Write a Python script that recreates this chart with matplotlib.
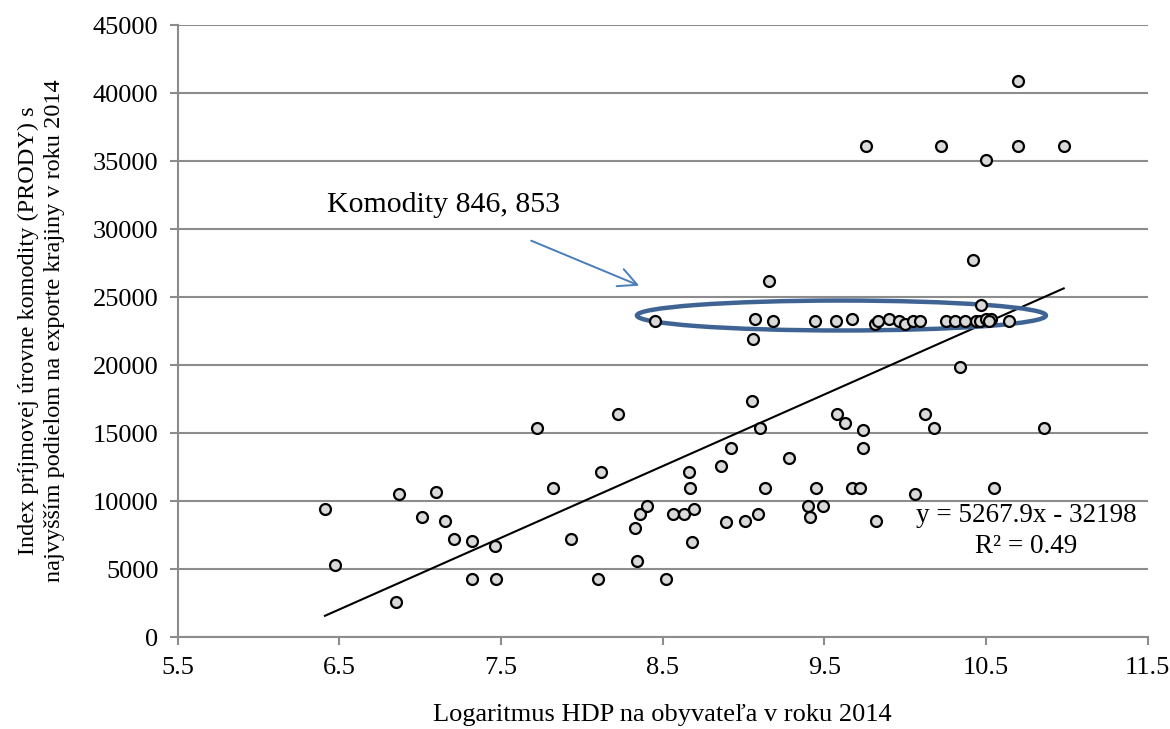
import matplotlib
matplotlib.use('Agg')
import matplotlib.pyplot as plt
from matplotlib.patches import Ellipse
import numpy as np

plt.rcParams.update({
    'font.family': ['Liberation Serif', 'DejaVu Serif'],
    'font.size': 19,
})

# log GDP per capita 2014 vs PRODY of top export commodity
gdp_log = [
    6.41, 6.47, 6.85, 6.87, 7.01, 7.10, 7.15, 7.21, 7.32, 7.32, 7.46, 7.47,
    7.72, 7.82, 7.93, 8.10, 8.12, 8.22, 8.33, 8.34, 8.36, 8.40, 8.52, 8.56,
    8.63, 8.66, 8.67, 8.69, 8.68, 8.86, 8.92, 8.89, 9.01, 9.05, 9.09, 9.10,
    9.13, 9.28, 9.40, 9.41, 9.45, 9.49, 9.58, 9.63, 9.67, 9.72, 9.74, 9.74,
    9.82, 10.06, 10.12, 10.18, 10.55, 10.86,
    8.45, 9.16, 9.07, 9.06, 9.18, 9.44, 9.57, 9.67, 9.81, 9.83, 9.90, 9.96,
    10.00, 10.05, 10.09, 10.25, 10.31, 10.37, 10.42, 10.44, 10.47, 10.46,
    10.50, 10.53, 10.52, 10.64, 10.34,
    10.70, 9.76, 10.22, 10.50, 10.70, 10.98,
]
prody = [
    9400, 5300, 2600, 10550, 8800, 10700, 8550, 7250, 7050, 4250, 6700, 4250,
    15350, 11000, 7250, 4250, 12150, 16400, 8050, 5600, 9050, 9650, 4250, 9050,
    9050, 12150, 11000, 9450, 7000, 12600, 13900, 8450, 8550, 17400, 9050, 15350,
    11000, 13200, 9650, 8800, 11000, 9650, 16400, 15750, 11000, 11000, 15250, 13900,
    8550, 10550, 16400, 15350, 11000, 15350,
    23250, 26200, 23400, 21900, 23250, 23250, 23250, 23400, 23050, 23250, 23400, 23250,
    23050, 23250, 23250, 23250, 23250, 23250, 27700, 23250, 24400, 23250,
    23400, 23400, 23250, 23250, 19900,
    40900, 36100, 36100, 35050, 36100, 36100,
]

slope, intercept = 5267.9, -32198
x_ticks = [5.5, 6.5, 7.5, 8.5, 9.5, 10.5, 11.5]
y_ticks = np.arange(0, 45001, 5000)

fig = plt.figure(figsize=(11.7, 7.29), dpi=100)
ax = fig.add_axes([0.152, 0.126, 0.829, 0.8395])

ax.grid(axis='y', color='#8c8c8c', linewidth=1.5)
ax.set_axisbelow(True)

ax.scatter(gdp_log, prody, s=62, facecolor='#d9d9d9', edgecolor='black',
           linewidth=1.6, zorder=4)

xs = np.array([min(gdp_log), max(gdp_log)])
ax.plot(xs, slope * xs + intercept, color='black', linewidth=1.5, zorder=3)

ax.add_patch(Ellipse((9.605, 23650), 2.53, 2200, fill=False,
                     edgecolor='#3f6494', linewidth=3.2, zorder=3))

ax.annotate('', xy=(8.37, 25770), xytext=(7.67, 29230),
            arrowprops=dict(arrowstyle='->,head_length=0.7,head_width=0.35',
                            color='#4a7ebb', linewidth=1.4))
ax.text(6.42, 31750, 'Komodity 846, 853', ha='left', va='center', fontsize=21.5)

ax.text(10.75, 7800, 'y = 5267.9x - 32198\nR² = 0.49', ha='center', va='center',
        multialignment='center', fontsize=19.5, linespacing=1.3, zorder=5)

ax.set_xlim(5.5, 11.5)
ax.set_ylim(0, 45000)
ax.set_xticks(x_ticks)
ax.set_xticklabels(['{:.1f}'.format(t) for t in x_ticks])
ax.set_yticks(y_ticks)

for side in ['top', 'right']:
    ax.spines[side].set_visible(False)
for side in ['left', 'bottom']:
    ax.spines[side].set_color('#8c8c8c')
    ax.spines[side].set_linewidth(1.5)
ax.tick_params(color='#8c8c8c', width=1.5, length=6, labelsize=19, pad=8)

ax.set_xlabel('Logaritmus HDP na obyvateľa v roku 2014', fontsize=19, labelpad=18)
ax.set_ylabel('Index príjmovej úrovne komodity (PRODY) s\n'
              'najvyšším podielom na exporte krajiny v roku 2014',
              fontsize=17.5, labelpad=20, linespacing=1.3)

fig.savefig('out.png', dpi=100)
plt.close(fig)
